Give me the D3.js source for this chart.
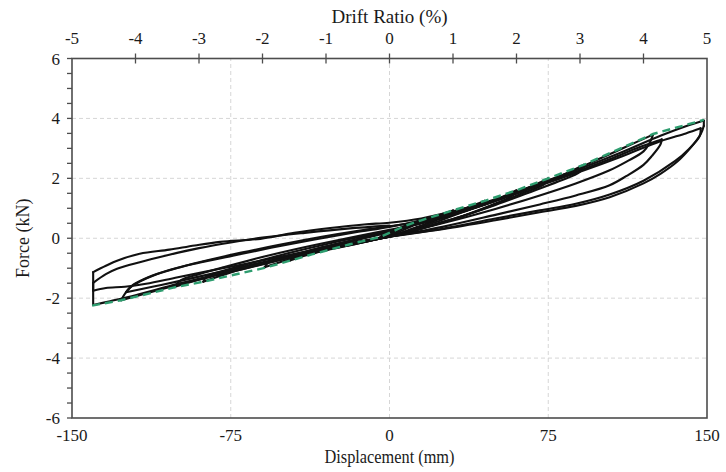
<!DOCTYPE html>
<html>
<head>
<meta charset="utf-8">
<script src="https://cdn.jsdelivr.net/npm/d3@7"></script>
<style>
  body { margin: 0; background: #fff; }
</style>
</head>
<body>
<div id="chart"></div>
<script>
// --- Data ---
const dispTicks  = [-150, -75, 0, 75, 150];
const driftTicks = [-5, -4, -3, -2, -1, 0, 1, 2, 3, 4, 5];
const forceTicks = [-6, -4, -2, 0, 2, 4, 6];
const gridX = [-75, 0, 75];
const gridY = [-4, -2, 0, 2, 4];

// envelope (green dashed), [displacement mm, force kN]
const backbone = [
  [-140.5, -2.25], [-126.8, -2.07], [-101.7, -1.64], [-88, -1.45], [-59, -0.99],
  [-36.7, -0.54], [-18.7, -0.2], [-4.5, 0.04], [7.5, 0.42], [15, 0.6], [30, 0.93],
  [45, 1.25], [60, 1.6], [75, 2.0], [91.7, 2.45], [124.5, 3.48], [148.5, 3.95]
];

// hysteresis record, cycle by cycle
const cycle1 = [[0,0.12],[4,0.3],[7.5,0.42],[6,0.33],[3,0.22],[0,0.12],[-2.5,0.06],[-4.5,0.02],[-3.5,0.1],[-1.5,0.18],[0,0.22]];
const cycle2 = [[5,0.34],[10,0.48],[15,0.6],[13,0.5],[8,0.32],[3,0.18],[0,0.1],[-6,0.0],[-12,-0.09],[-18.7,-0.19],[-17,-0.08],[-12,0.03],[-6,0.12],[0,0.22]];
const cycle3 = [[8,0.4],[15,0.56],[22,0.74],[30,0.93],[28,0.8],[22,0.6],[14,0.4],[6,0.2],[0,0.08],[-10,-0.1],[-20,-0.25],[-28,-0.36],[-36.7,-0.52],[-35,-0.38],[-28,-0.24],[-18,-0.08],[-8,0.08],[0,0.2]];
const cycle4 = [[10,0.42],[20,0.62],[30,0.85],[38,1.05],[45,1.25],[43,1.12],[35,0.88],[25,0.62],[15,0.38],[5,0.15],[0,0.06],[-10,-0.1],[-22,-0.28],[-34,-0.46],[-47,-0.74],[-45,-0.58],[-38,-0.42],[-26,-0.22],[-12,0.0],[0,0.22]];
const cycle5 = [[10,0.42],[22,0.64],[35,0.9],[48,1.22],[60,1.6],[58,1.42],[48,1.1],[36,0.78],[22,0.48],[10,0.22],[0,0.06],[-12,-0.12],[-25,-0.3],[-38,-0.52],[-50,-0.76],[-59,-0.97],[-57,-0.8],[-50,-0.64],[-38,-0.42],[-24,-0.18],[-10,0.05],[0,0.22]];
const cycle6 = [[12,0.45],[25,0.68],[40,1.02],[55,1.4],[66,1.7],[75,2.0],[73,1.8],[62,1.48],[48,1.08],[32,0.68],[16,0.34],[0,0.06],[-15,-0.14],[-30,-0.36],[-45,-0.6],[-60,-0.86],[-75,-1.14],[-88,-1.45],[-86,-1.26],[-78,-1.08],[-65,-0.82],[-48,-0.5],[-30,-0.2],[-12,0.08],[0,0.25]];
const cycle7 = [[12,0.45],[28,0.74],[45,1.12],[62,1.55],[78,1.98],[91.7,2.45],[90,2.22],[80,1.9],[65,1.5],[48,1.06],[30,0.64],[14,0.3],[0,0.05],[-15,-0.14],[-32,-0.38],[-50,-0.66],[-68,-0.96],[-85,-1.28],[-101.7,-1.63],[-98.5,-1.4],[-90,-1.2],[-78,-0.96],[-62,-0.66],[-44,-0.36],[-24,-0.06],[0,0.28]];
const cycle8 = [[15,0.5],[30,0.8],[48,1.2],[65,1.66],[82,2.12],[100,2.68],[112,3.06],[124.5,3.46],[123,3.2],[120,2.9],[112,2.56],[104,2.27],[88,1.83],[71,1.43],[50,0.98],[25,0.5],[0,0.06],[-18,-0.2],[-38,-0.5],[-58,-0.84],[-78,-1.18],[-98,-1.52],[-114,-1.82],[-126.8,-2.07],[-123,-1.67],[-118,-1.45],[-110,-1.2],[-98,-0.95],[-85,-0.72],[-70,-0.48],[-52,-0.22],[-32,0.05],[-14,0.26],[0,0.4]];
const cycle9 = [[15,0.56],[32,0.84],[50,1.24],[68,1.7],[86,2.16],[104,2.64],[118,3.04],[126,3.24],[128.6,3.3],[128,3.13],[124,2.75],[120,2.45],[112,2.08],[104,1.77],[88,1.43],[71,1.13],[50,0.78],[25,0.38],[0,0.05],[-20,-0.2],[-40,-0.48],[-60,-0.8],[-80,-1.12],[-100,-1.44],[-112,-1.62],[-124.4,-1.8],[-121,-1.55],[-114,-1.3],[-104,-1.06],[-90,-0.82],[-74,-0.58],[-56,-0.32],[-36,-0.05],[-16,0.2],[0,0.38]];
const cycle10 = [[15,0.6],[30,0.88],[50,1.3],[70,1.8],[90,2.32],[110,2.88],[128,3.42],[140,3.74],[148.5,3.93],[148.5,3.75],[147,3.47],[142,3.0],[136,2.56],[128,2.15],[120,1.83],[104,1.37],[88,1.08],[71,0.87],[50,0.6],[25,0.3],[0,0.05],[-20,-0.2],[-40,-0.5],[-60,-0.84],[-80,-1.18],[-100,-1.52],[-120,-1.9],[-132,-2.1],[-140,-2.23],[-140,-1.13],[-134,-0.92],[-128.7,-0.75],[-118,-0.52],[-104,-0.38],[-92,-0.24],[-80,-0.12],[-61,-0.02],[-45,0.18],[-28,0.34],[-12,0.46],[0,0.52]];
const cycle11 = [[15,0.66],[30,0.9],[50,1.28],[70,1.74],[90,2.22],[110,2.74],[128,3.24],[140,3.5],[147,3.67],[146.5,3.4],[141,2.95],[135,2.58],[120,1.92],[104,1.46],[88,1.15],[71,0.93],[50,0.66],[25,0.32],[0,0.06],[-20,-0.18],[-40,-0.45],[-60,-0.74],[-80,-1.02],[-100,-1.3],[-115,-1.52],[-125,-1.62],[-134,-1.66],[-140,-1.75],[-140,-1.49],[-134,-1.2],[-128.7,-1.02],[-118,-0.8],[-105,-0.57],[-90,-0.33],[-75,-0.14],[-60,0.02],[-40,0.18],[-20,0.32],[0,0.42]];

const cycles = [cycle1, cycle2, cycle3, cycle4, cycle5, cycle6, cycle7, cycle8, cycle9, cycle10, cycle11];

// --- Layout ---
const width = 726, height = 472;
const margin = { top: 58.5, right: 19, bottom: 54, left: 72 };
const fontFamily = "'Liberation Serif', 'Times New Roman', serif";

const svg = d3.select("#chart").append("svg")
    .attr("width", width)
    .attr("height", height)
    .style("font-family", fontFamily);

const x = d3.scaleLinear().domain([-150, 150]).range([margin.left, width - margin.right]);
const xDrift = d3.scaleLinear().domain([-5, 5]).range([margin.left, width - margin.right]);
const y = d3.scaleLinear().domain([-6, 6]).range([height - margin.bottom, margin.top]);

const axisColor = "#4d4d4d";
const textColor = "#1a1a1a";

// grid
svg.append("g").selectAll("line")
    .data(gridY)
    .join("line")
    .attr("x1", x(-150)).attr("x2", x(150))
    .attr("y1", d => y(d)).attr("y2", d => y(d))
    .attr("stroke", "#d6d6d6").attr("stroke-width", 1)
    .attr("stroke-dasharray", "4,3");

svg.append("g").selectAll("line")
    .data(gridX)
    .join("line")
    .attr("x1", d => x(d)).attr("x2", d => x(d))
    .attr("y1", y(-6)).attr("y2", y(6))
    .attr("stroke", "#d6d6d6").attr("stroke-width", 1)
    .attr("stroke-dasharray", "4,3");

// split record into runs going one way in x, so the smoothing doesn't overshoot at reversals
const record = cycles.flat();
const runs = [];
let run = [record[0]], dir = null;
for (let i = 1; i < record.length; i++) {
    const dx = record[i][0] - record[i - 1][0];
    const s = Math.sign(dx);
    if (dir !== null && s !== dir) {
        runs.push(run);
        run = [record[i - 1]];
    }
    run.push(record[i]);
    dir = s;
}
runs.push(run);

const line = d3.line()
    .x(d => x(d[0]))
    .y(d => y(d[1]))
    .curve(d3.curveCatmullRom.alpha(0.5));

svg.append("g").selectAll("path")
    .data(runs)
    .join("path")
    .attr("fill", "none")
    .attr("stroke", "#111")
    .attr("stroke-width", 2.1)
    .attr("stroke-linejoin", "round")
    .attr("stroke-linecap", "round")
    .attr("d", line);

// envelope
svg.append("path")
    .datum(backbone)
    .attr("fill", "none")
    .attr("stroke", "#2e9d6f")
    .attr("stroke-width", 2.4)
    .attr("stroke-dasharray", "8,5")
    .attr("d", d3.line().x(d => x(d[0])).y(d => y(d[1])));

// frame
svg.append("rect")
    .attr("x", x(-150)).attr("y", y(6))
    .attr("width", x(150) - x(-150)).attr("height", y(-6) - y(6))
    .attr("fill", "none")
    .attr("stroke", axisColor).attr("stroke-width", 1.6);

// --- Left axis ---
const minor = d3.range(-6, 6.01, 0.5);
svg.append("g").selectAll("line")
    .data(minor)
    .join("line")
    .attr("x1", x(-150) - 5).attr("x2", x(-150))
    .attr("y1", d => y(d)).attr("y2", d => y(d))
    .attr("stroke", axisColor).attr("stroke-width", 1.3);

svg.append("g").selectAll("text")
    .data(forceTicks)
    .join("text")
    .attr("x", x(-150) - 12)
    .attr("y", d => y(d) + 6)
    .attr("text-anchor", "end")
    .attr("font-size", "17px")
    .attr("fill", textColor)
    .text(d => d);

svg.append("text")
    .attr("transform", `translate(29, ${y(0)}) rotate(-90)`)
    .attr("text-anchor", "middle")
    .attr("font-size", "18px")
    .attr("fill", textColor)
    .text("Force (kN)");

// --- Bottom axis ---
svg.append("g").selectAll("text")
    .data(dispTicks)
    .join("text")
    .attr("x", d => x(d))
    .attr("y", y(-6) + 23)
    .attr("text-anchor", "middle")
    .attr("font-size", "17px")
    .attr("fill", textColor)
    .text(d => d);

svg.append("text")
    .attr("x", x(0))
    .attr("y", 463)
    .attr("text-anchor", "middle")
    .attr("font-size", "18px")
    .attr("textLength", 130)
    .attr("lengthAdjust", "spacingAndGlyphs")
    .attr("fill", textColor)
    .text("Displacement (mm)");

// --- Top axis (drift) ---
svg.append("g").selectAll("line")
    .data(driftTicks.filter(d => Math.abs(d) < 5))
    .join("line")
    .attr("x1", d => xDrift(d)).attr("x2", d => xDrift(d))
    .attr("y1", y(6) - 5).attr("y2", y(6) + 5)
    .attr("stroke", axisColor).attr("stroke-width", 1.3);

svg.append("g").selectAll("text")
    .data(driftTicks)
    .join("text")
    .attr("x", d => xDrift(d))
    .attr("y", y(6) - 15)
    .attr("text-anchor", "middle")
    .attr("font-size", "17px")
    .attr("fill", textColor)
    .text(d => d);

svg.append("text")
    .attr("x", x(0))
    .attr("y", 23)
    .attr("text-anchor", "middle")
    .attr("font-size", "19px")
    .attr("fill", textColor)
    .text("Drift Ratio (%)");
</script>
</body>
</html>
